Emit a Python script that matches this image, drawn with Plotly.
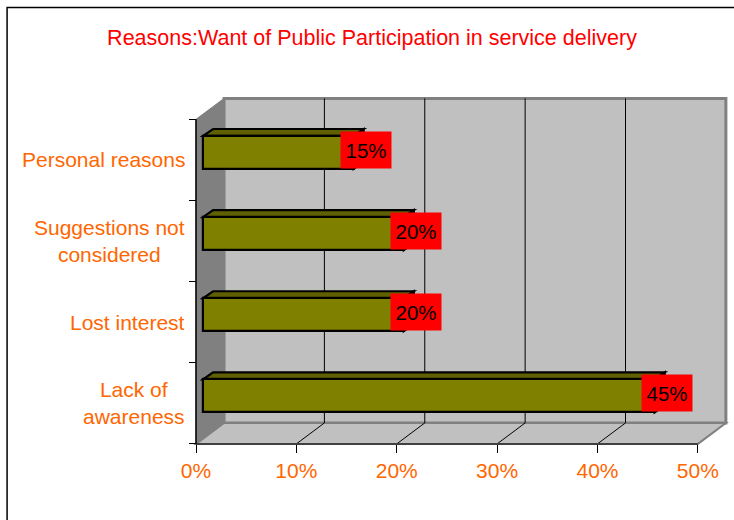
import plotly.graph_objects as go

# ---- data ----
categories = ["Lack of<br>awareness", "Lost interest", "Suggestions not<br>considered", "Personal reasons"]
values = [45, 20, 20, 15]
x_ticks = [0, 10, 20, 30, 40, 50]
x_tick_labels = ["0%", "10%", "20%", "30%", "40%", "50%"]
title_text = "Reasons:Want of Public Participation in service delivery"

# ---- style / geometry constants ----
W, H = 734, 520
PX0 = 196.0          # pixel of x = 0 on the front plane
PPX = 10.04          # pixels per percent
PY_BOT = 444.0       # pixel of y = -0.5 on the front plane
PPY = 81.25          # pixels per category
XR = [-0.6, 53.2]
YR = [-0.6, 3.8]
DX, DY = 2.79, 0.258          # depth of the 3D box (data units)
BAR_X0, BAR_DX, BAR_DY = 0.7, 1.0, 0.086
BAR_OFF, BAR_W = -0.111, 0.406
ORANGE = "#FF6600"
FONT = "Arial, Liberation Sans, sans-serif"

l = PX0 + XR[0] * PPX
pw = (XR[1] - XR[0]) * PPX
r = W - l - pw
pbot = PY_BOT + (-0.5 - YR[0]) * PPY
ptop = PY_BOT - (YR[1] + 0.5) * PPY
b = H - pbot
t = ptop
ph = pbot - ptop

ypos = list(range(len(categories)))
ncat = len(categories)
xmax = x_ticks[-1]

fig = go.Figure()

fig.add_trace(go.Bar(
    y=ypos, x=values, base=BAR_X0, orientation="h",
    offset=BAR_OFF, width=BAR_W,
    marker=dict(color="#808000", line=dict(color="black", width=2.2)),
    hoverinfo="skip", showlegend=False,
))

shapes = []
# back wall
shapes.append(dict(type="rect", xref="x", yref="y", x0=DX, x1=xmax + DX,
                   y0=-0.5 + DY, y1=ncat - 0.5 + DY, fillcolor="#C0C0C0",
                   line=dict(color="#808080", width=3), layer="below"))
# floor
shapes.append(dict(type="path", xref="x", yref="y",
                   path=f"M0,-0.5 L{xmax},-0.5 L{xmax+DX},{-0.5+DY} L{DX},{-0.5+DY} Z",
                   fillcolor="#C0C0C0", line=dict(color="#808080", width=2), layer="below"))
# left wall
shapes.append(dict(type="path", xref="x", yref="y",
                   path=f"M0,-0.5 L0,{ncat-0.5} L{DX},{ncat-0.5+DY} L{DX},{-0.5+DY} Z",
                   fillcolor="#808080", line=dict(color="#808080", width=1), layer="below"))
# grid lines on back wall and floor
for k in x_ticks[1:-1]:
    shapes.append(dict(type="line", xref="x", yref="y", x0=k + DX, x1=k + DX,
                       y0=-0.5 + DY, y1=ncat - 0.5 + DY,
                       line=dict(color="black", width=1), layer="below"))
    shapes.append(dict(type="line", xref="x", yref="y", x0=k, x1=k + DX,
                       y0=-0.5, y1=-0.5 + DY,
                       line=dict(color="black", width=1), layer="below"))
# front axis lines
shapes.append(dict(type="line", xref="x", yref="y", x0=0, x1=xmax, y0=-0.5, y1=-0.5,
                   line=dict(color="#404040", width=2), layer="below"))
shapes.append(dict(type="line", xref="x", yref="y", x0=0, x1=0, y0=-0.5, y1=ncat - 0.5,
                   line=dict(color="black", width=1.5), layer="below"))
# 3D faces of bars
for yi, v in zip(ypos, values):
    top = yi + BAR_OFF + BAR_W
    bot = yi + BAR_OFF
    x1 = BAR_X0 + v
    shapes.append(dict(type="path", xref="x", yref="y",
                       path=f"M{BAR_X0},{top} L{x1},{top} L{x1+BAR_DX},{top+BAR_DY} L{BAR_X0+BAR_DX},{top+BAR_DY} Z",
                       fillcolor="#606000", line=dict(color="black", width=2.2), layer="below"))
    shapes.append(dict(type="path", xref="x", yref="y",
                       path=f"M{x1},{bot} L{x1},{top} L{x1+BAR_DX},{top+BAR_DY} L{x1+BAR_DX},{bot+BAR_DY} Z",
                       fillcolor="#404000", line=dict(color="black", width=2.2), layer="below"))
# outer frame
shapes.append(dict(type="rect", xref="paper", yref="paper",
                   x0=(7 - l) / pw, x1=(W + 20 - l) / pw,
                   y0=(pbot - (H + 20)) / ph, y1=(pbot - 7) / ph,
                   line=dict(color="black", width=1.5), fillcolor="rgba(0,0,0,0)"))

annotations = []
# data labels
for yi, v in zip(ypos, values):
    annotations.append(dict(x=v + BAR_X0 + BAR_DX + 0.2, y=yi + 0.125, xref="x", yref="y",
                            text=f"{v}%", showarrow=False, bgcolor="#FF0000",
                            width=50, height=36, borderpad=0, align="center", valign="middle",
                            font=dict(family=FONT, size=20.5, color="black"),
                            xanchor="center", yanchor="middle"))
# category labels (centre-aligned multi-line, like the original)
for yi, c in zip(ypos, categories):
    annotations.append(dict(x=0, y=yi, xref="x", yref="y", text=c, showarrow=False,
                            xanchor="right", yanchor="middle", align="center", xshift=-9,
                            font=dict(family=FONT, size=21, color=ORANGE)))

fig.update_layout(
    width=W, height=H,
    margin=dict(l=l, r=r, t=t, b=b, pad=0),
    paper_bgcolor="white", plot_bgcolor="rgba(0,0,0,0)",
    shapes=shapes, annotations=annotations,
    title=dict(text=title_text, xref="container", yref="container",
               x=372 / W, y=1 - 37 / H, xanchor="center", yanchor="middle",
               font=dict(family=FONT, size=21.5, color="#FF0000")),
    xaxis=dict(range=XR, showgrid=False, zeroline=False, showline=False,
               tickvals=x_ticks, ticktext=x_tick_labels, ticks="outside", ticklen=8,
               tickcolor="black", tickwidth=1,
               tickfont=dict(family=FONT, size=21, color=ORANGE),
               anchor="free", position=(pbot - PY_BOT) / ph, automargin=False, fixedrange=True),
    yaxis=dict(range=YR, showgrid=False, zeroline=False, showline=False,
               tickvals=[i - 0.5 for i in range(ncat + 1)], ticks="outside",
               ticklen=7, tickcolor="black", tickwidth=1, showticklabels=False,
               anchor="free", position=(PX0 - l) / pw, automargin=False, fixedrange=True),
    bargap=0,
    font=dict(family=FONT),
)

fig.write_html("out.html")
